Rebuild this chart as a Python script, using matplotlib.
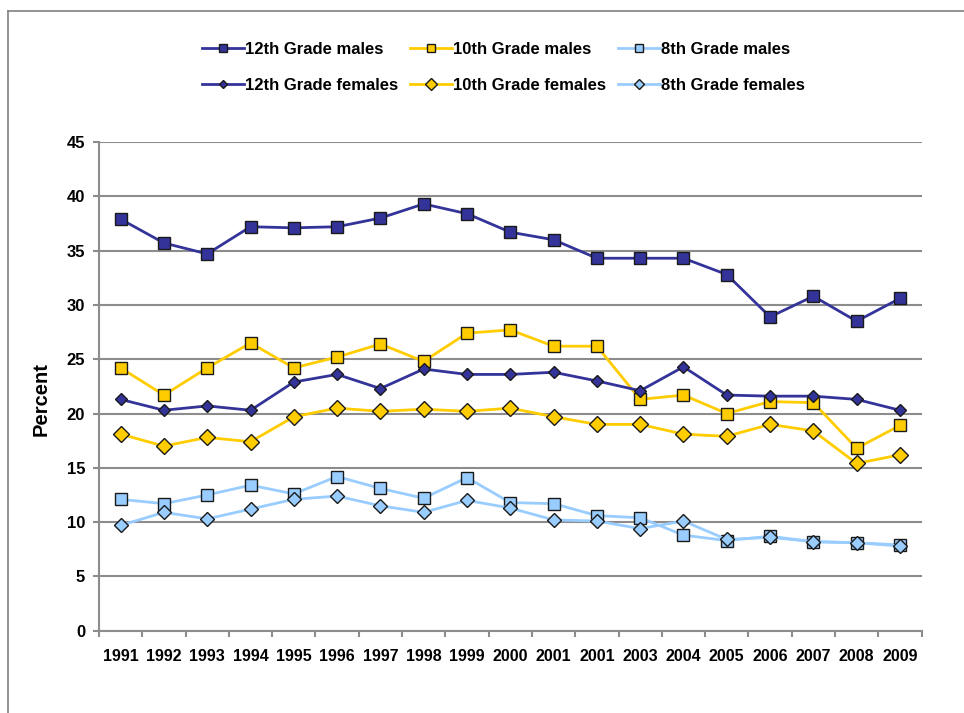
import matplotlib
matplotlib.use("Agg")
import matplotlib.pyplot as plt
from matplotlib.lines import Line2D

# category labels (the source repeats 2001)
years = ["1991", "1992", "1993", "1994", "1995", "1996", "1997", "1998", "1999", "2000",
         "2001", "2001", "2003", "2004", "2005", "2006", "2007", "2008", "2009"]

males_12 = [37.9, 35.7, 34.7, 37.2, 37.1, 37.2, 38.0, 39.3, 38.4, 36.7,
            36.0, 34.3, 34.3, 34.3, 32.8, 28.9, 30.8, 28.5, 30.6]
males_10 = [24.2, 21.7, 24.2, 26.5, 24.2, 25.2, 26.4, 24.8, 27.4, 27.7,
            26.2, 26.2, 21.3, 21.7, 20.0, 21.1, 21.0, 16.8, 18.9]
males_8 = [12.1, 11.7, 12.5, 13.4, 12.6, 14.2, 13.1, 12.2, 14.1, 11.8,
           11.7, 10.6, 10.4, 8.8, 8.3, 8.7, 8.2, 8.1, 7.9]
females_12 = [21.3, 20.3, 20.7, 20.3, 22.9, 23.6, 22.3, 24.1, 23.6, 23.6,
              23.8, 23.0, 22.1, 24.3, 21.7, 21.6, 21.6, 21.3, 20.3]
females_10 = [18.1, 17.0, 17.8, 17.4, 19.7, 20.5, 20.2, 20.4, 20.2, 20.5,
              19.7, 19.0, 19.0, 18.1, 17.9, 19.0, 18.4, 15.4, 16.2]
females_8 = [9.7, 10.9, 10.3, 11.2, 12.1, 12.4, 11.5, 10.9, 12.0, 11.3,
             10.2, 10.1, 9.4, 10.1, 8.4, 8.6, 8.2, 8.1, 7.8]

navy = "#333399"
gold = "#FFCC00"
sky = "#99CCFF"
grey = "#8c8c8c"

plt.rcParams["font.family"] = ["Liberation Sans", "DejaVu Sans"]
plt.rcParams["font.weight"] = "bold"

fig = plt.figure(figsize=(9.64, 7.13), dpi=100)
ax = fig.add_axes([0.1027, 0.1154, 0.8533, 0.6854])

x = list(range(len(years)))

# series in the order the spreadsheet draws them
series = [
    (males_12, navy, "s", 8.5, "12th Grade males"),
    (males_10, gold, "s", 8.5, "10th Grade males"),
    (males_8, sky, "s", 8.5, "8th Grade males"),
    (females_12, navy, "D", 6, "12th Grade females"),
    (females_10, gold, "D", 8, "10th Grade females"),
    (females_8, sky, "D", 7, "8th Grade females"),
]
handles = {}
for vals, col, mk, ms, name in series:
    ln, = ax.plot(x, vals, color=col, lw=2.0, marker=mk, ms=ms,
                  mfc=col, mec="#1a1a1a", mew=1.0, label=name, zorder=3)
    handles[name] = ln

ax.set_xlim(-0.5, len(years) - 0.5)
ax.set_ylim(0, 45)
ax.set_yticks(range(0, 46, 5))
ax.set_xticks(x)
ax.set_xticklabels(years, fontsize=11.5, fontweight="bold")
ax.set_xticks([i - 0.5 for i in range(len(years) + 1)], minor=True)
ax.tick_params(axis="x", which="major", length=0, pad=13)
ax.tick_params(axis="x", which="minor", length=4.3, width=1.5, color=grey)
ax.tick_params(axis="y", length=4, width=1.5, color=grey, labelsize=12, pad=6)
for lab in ax.get_yticklabels():
    lab.set_fontweight("bold")

ax.grid(axis="y", color=grey, lw=1.5)
ax.set_axisbelow(True)
for s in ["top", "right"]:
    ax.spines[s].set_visible(False)
for s in ["left", "bottom"]:
    ax.spines[s].set_color(grey)
    ax.spines[s].set_linewidth(1.5)

fig.text(41 / 964, 1 - 399 / 713, "Percent", rotation=90, ha="center", va="center",
         fontsize=14.5, fontweight="bold")

order = ["12th Grade males", "12th Grade females", "10th Grade males",
         "10th Grade females", "8th Grade males", "8th Grade females"]
fig.legend([handles[n] for n in order], order, ncol=3, loc="upper left",
           bbox_to_anchor=(202 / 964, 1 - 42 / 713), frameon=False, fontsize=12,
           handlelength=2.5, handletextpad=0.1, columnspacing=0.7,
           labelspacing=1.25, borderpad=0, borderaxespad=0, markerscale=0.75)

# chart area border (top and left edges visible)
fig.add_artist(Line2D([7.5 / 964, 1.0], [1 - 10.5 / 713, 1 - 10.5 / 713],
                      transform=fig.transFigure, color="#808080", lw=1.2))
fig.add_artist(Line2D([7.5 / 964, 7.5 / 964], [0, 1 - 10.5 / 713],
                      transform=fig.transFigure, color="#808080", lw=1.2))

fig.savefig("out.png", dpi=100)
